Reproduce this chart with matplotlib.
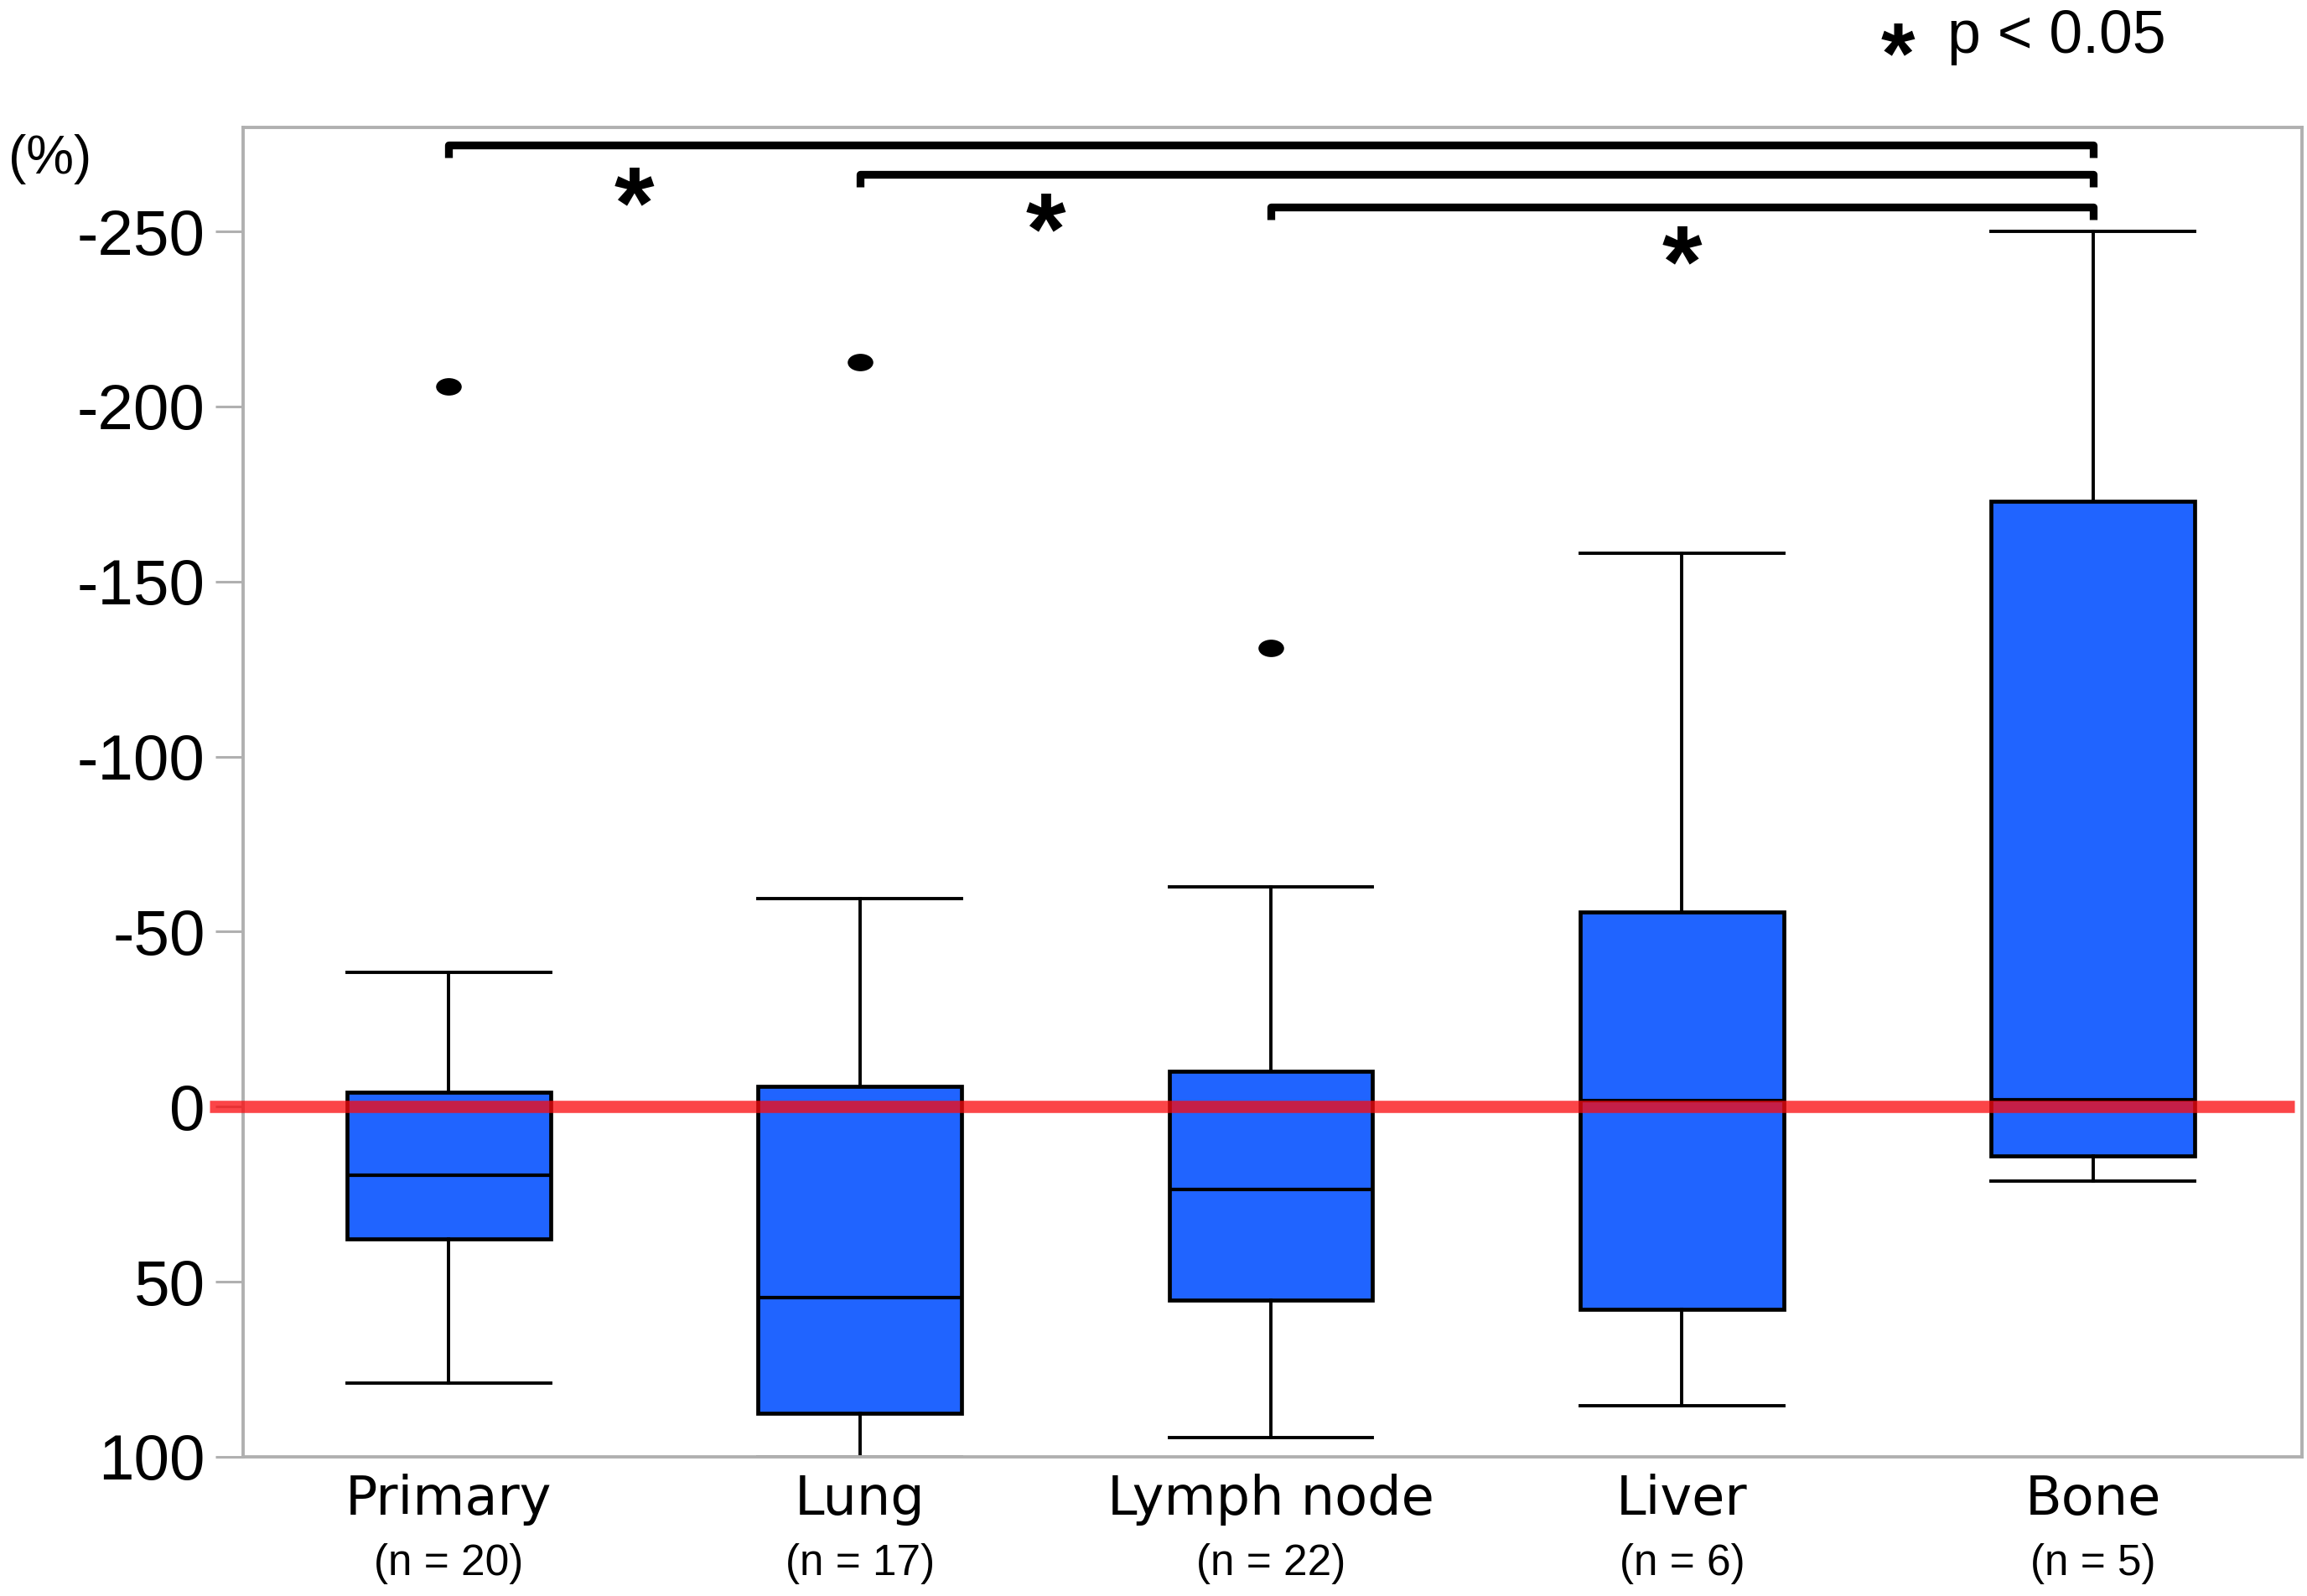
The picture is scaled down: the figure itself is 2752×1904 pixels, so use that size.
import numpy as np
import matplotlib
matplotlib.use('Agg')
import matplotlib.pyplot as plt
from matplotlib.path import Path

# data (y axis is inverted, negative = shrinkage)
categories = ['Primary', 'Lung', 'Lymph node', 'Liver', 'Bone']
n_counts = [20, 17, 22, 6, 5]
whis_min = [-38.3, -59.5, -62.9, -158.2, -250.0]
q_low = [-4.2, -5.9, -10.1, -55.7, -172.9]
medians = [19.5, 54.6, 23.6, -1.65, -2.1]
q_high = [37.7, 87.5, 55.2, 57.9, 14.1]
whis_max = [78.9, 100.0, 94.5, 85.4, 21.2]
outliers = [[-205.8], [-212.7], [-131.1], [], []]

yticks = [-250, -200, -150, -100, -50, 0, 50, 100]

# significant pairs (p < 0.05)
sig_pairs = [('Primary', 'Bone'), ('Lung', 'Bone'), ('Lymph node', 'Bone')]

# layout
bracket_y = [-274.6, -266.3, -256.9]
bracket_drop = 3.6
star_xy = [(1.452, -265.3), (2.452, -257.8), (4.0, -248.5)]

box_color = '#2064ff'
spine_color = '#b0b0b0'
red = (0.98, 0.04, 0.06)

arial = 'Liberation Sans'

fig = plt.figure(figsize=(27.52, 19.04), dpi=100)
ax = fig.add_axes([290 / 2752, 1 - 1738 / 1904, (2746 - 290) / 2752, (1738 - 152) / 1904])

positions = np.arange(1, len(categories) + 1)
stats = []
for i in range(len(categories)):
    stats.append({'label': categories[i], 'whislo': whis_min[i], 'q1': q_low[i],
                  'med': medians[i], 'q3': q_high[i], 'whishi': whis_max[i],
                  'fliers': outliers[i]})

# slightly flattened dot for the outliers
circ = Path.unit_circle()
ellipse = Path(circ.vertices * np.array([1.0, 0.68]), circ.codes)

ax.bxp(stats, positions=positions, widths=0.495, capwidths=0.495, patch_artist=True,
       boxprops=dict(facecolor=box_color, edgecolor='black', linewidth=3.4),
       whiskerprops=dict(color='black', linewidth=2.8),
       capprops=dict(color='black', linewidth=2.8),
       medianprops=dict(color='black', linewidth=3.0),
       flierprops=dict(marker=ellipse, markersize=22, markerfacecolor='black',
                       markeredgecolor='none'))

# zero reference line
ax.hlines(0, 0.418, 5.49, color=red, alpha=0.76, linewidth=10.5, zorder=3, clip_on=False)

ax.set_xlim(0.5, 5.508)
ax.set_ylim(100, -279.7)

ax.set_yticks(yticks)
ax.set_yticklabels([str(v) for v in yticks], fontsize=55, family=arial)
ax.tick_params(axis='y', length=24, width=2.2, color=spine_color, pad=8.6)

ax.set_xticks(positions)
ax.set_xticklabels(categories, fontsize=46, family='DejaVu Sans')
ax.tick_params(axis='x', length=0, pad=14.4)

for sp in ax.spines.values():
    sp.set_color(spine_color)
    sp.set_linewidth(2.8)

for pos, n in zip(positions, n_counts):
    ax.annotate('(n = %d)' % n, xy=(pos, 0), xycoords=('data', 'axes fraction'),
                xytext=(0, -128), textcoords='offset pixels', ha='center', va='center',
                fontsize=37, family=arial)

# significance brackets
for (a, b), y in zip(sig_pairs, bracket_y):
    x1 = positions[categories.index(a)]
    x2 = positions[categories.index(b)]
    ax.plot([x1, x1, x2, x2], [y + bracket_drop, y, y, y + bracket_drop], color='black',
            linewidth=6.7, solid_joinstyle='round', solid_capstyle='butt', clip_on=False,
            zorder=4)

star_size = 88
for sx, sy in star_xy:
    ax.annotate('*', xy=(sx, sy), xytext=(0, -0.58 * star_size / 0.72),
                textcoords='offset pixels', ha='center', va='baseline',
                fontsize=star_size, fontweight='bold', family=arial)

fig.text(10 / 2752, 1 - 190 / 1904, '(%)', fontsize=46, family=arial, ha='left', va='center')

leg_star = 75
fig.text(2264 / 2752, 1 - (39 + 0.58 * leg_star / 0.72) / 1904, '*', fontsize=leg_star,
         fontweight='bold', family=arial, ha='center', va='baseline')
fig.text(2323 / 2752, 1 - 63 / 1904, 'p < 0.05', fontsize=51.6, family=arial,
         ha='left', va='baseline')

fig.savefig('out.png', dpi=100)
